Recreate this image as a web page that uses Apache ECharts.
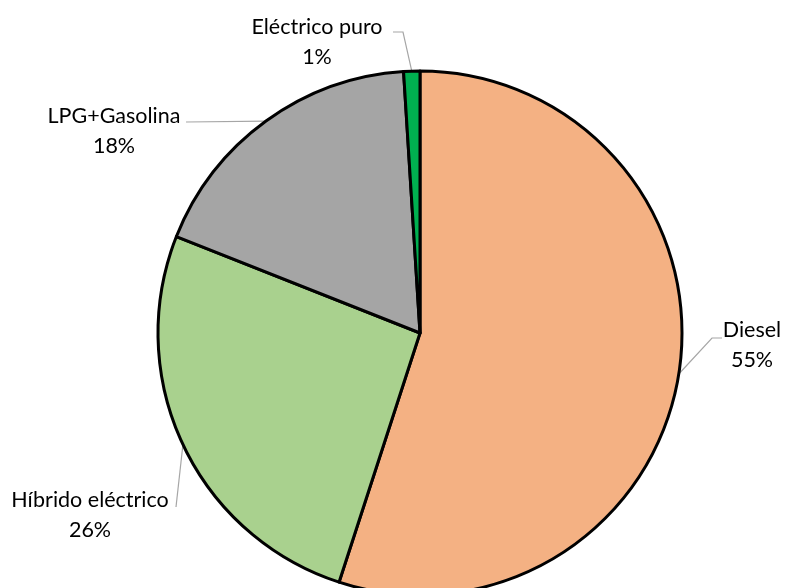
<!DOCTYPE html>
<html>
<head>
<meta charset="utf-8">
<script src="https://cdn.jsdelivr.net/npm/echarts@6/dist/echarts.min.js"></script>
<style>
  html, body { margin: 0; padding: 0; background: #fff; }
  #chart { width: 786px; height: 588px; }
</style>
</head>
<body>
<div id="chart"></div>
<script>
// Fuel type shares, clockwise from 12 o'clock
const categories = ['Diesel', 'Híbrido eléctrico', 'LPG+Gasolina', 'Eléctrico puro'];
const shares = [55, 26, 18, 1];
const sliceColors = ['#F4B183', '#A9D18E', '#A5A5A5', '#00B050'];

// Label placement: text block centre and leader-line elbow/end (pixels)
const labelPlacement = [
  { x: 752, y: 345, bend: [712, 338], end: [722, 338] },
  { x: 90,  y: 515, bend: [176, 507], end: [176, 507] },
  { x: 114, y: 131, bend: [186, 122], end: [186, 122] },
  { x: 317, y: 42,  bend: [403, 32],  end: [393, 32] }
];

const chart = echarts.init(document.getElementById('chart'), null, { renderer: 'canvas' });

chart.setOption({
  animation: false,
  backgroundColor: '#ffffff',
  series: [{
    type: 'pie',
    center: [420, 333],
    radius: [0, 262],
    startAngle: 90,
    clockwise: true,
    avoidLabelOverlap: false,
    data: categories.map((name, i) => ({
      name: name,
      value: shares[i],
      itemStyle: { color: sliceColors[i] }
    })),
    itemStyle: { borderColor: '#000000', borderWidth: 3 },
    label: {
      show: true,
      position: 'outside',
      formatter: p => p.name + '\n' + p.value + '%',
      fontFamily: 'Lato',
      fontSize: 21.5,
      lineHeight: 30,
      color: '#000000',
      align: 'center'
    },
    labelLine: {
      show: true,
      length: 10,
      length2: 10,
      lineStyle: { color: '#A6A6A6', width: 1.2 }
    },
    labelLayout: function (params) {
      const lp = labelPlacement[params.dataIndex];
      const start = params.labelLinePoints ? params.labelLinePoints[0] : lp.bend;
      return {
        x: lp.x,
        y: lp.y,
        align: 'center',
        verticalAlign: 'middle',
        labelLinePoints: [start, lp.bend, lp.end]
      };
    },
    emphasis: { disabled: true }
  }]
});
</script>
</body>
</html>
